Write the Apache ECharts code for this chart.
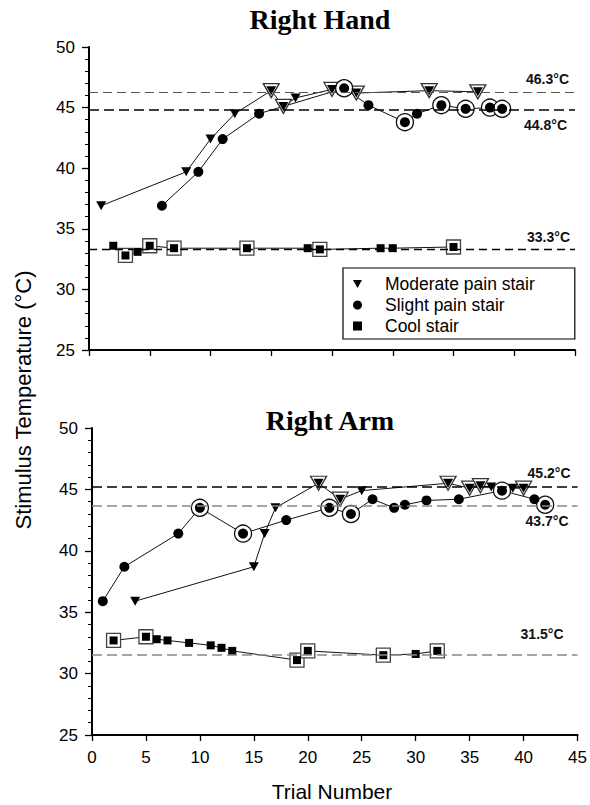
<!DOCTYPE html>
<html>
<head>
<meta charset="utf-8">
<script src="https://cdn.jsdelivr.net/npm/echarts@6/dist/echarts.min.js"></script>
<style>
html,body{margin:0;padding:0;background:#fff;}
#c{width:590px;height:805px;}
</style>
</head>
<body>
<div id="c"></div>
<script>
// ---------- DATA ----------
const seriesNames = ['Moderate pain stair', 'Slight pain stair', 'Cool stair'];
const xTicksTop = [0, 40, 5];      // min, max, interval
const xTicksBottom = [0, 45, 5];
const yTicks = [25, 50, 5];

// Right Hand
const handModX = [1, 8, 10, 12, 15, 16, 17, 20, 22, 28, 32];
const handModY = [36.9, 39.7, 42.4, 44.5, 46.4, 45.1, 45.8, 46.5, 46.2, 46.4, 46.3];
const handModRev = [0, 0, 0, 0, 1, 1, 0, 1, 1, 1, 1];

const handSlightX = [6, 9, 11, 14, 21, 23, 26, 27, 29, 31, 33, 34];
const handSlightY = [36.9, 39.7, 42.4, 44.5, 46.6, 45.2, 43.8, 44.5, 45.2, 44.9, 45.0, 44.9];
const handSlightRev = [0, 0, 0, 0, 1, 0, 1, 0, 1, 1, 1, 1];

const handCoolX = [2, 3, 4, 5, 7, 13, 18, 19, 24, 25, 30];
const handCoolY = [33.6, 32.8, 33.1, 33.6, 33.4, 33.4, 33.4, 33.3, 33.4, 33.4, 33.5];
const handCoolRev = [0, 1, 0, 1, 1, 1, 0, 1, 0, 0, 1];

const handRefValues = [46.3, 44.8, 33.3];

// Right Arm
const armModX = [4, 15, 16, 17, 21, 23, 25, 33, 35, 36, 37, 39, 40];
const armModY = [35.9, 38.7, 41.4, 43.5, 45.5, 44.2, 44.9, 45.5, 45.1, 45.3, 45.2, 45.1, 45.1];
const armModRev = [0, 0, 0, 0, 1, 1, 0, 1, 1, 1, 0, 0, 1];

const armSlightX = [1, 3, 8, 10, 14, 18, 22, 24, 26, 28, 29, 31, 34, 38, 41, 42];
const armSlightY = [35.9, 38.7, 41.4, 43.5, 41.4, 42.5, 43.5, 43.0, 44.2, 43.5, 43.75, 44.1, 44.2, 44.9, 44.2, 43.75];
const armSlightRev = [0, 0, 0, 1, 1, 0, 1, 1, 0, 0, 0, 0, 0, 1, 0, 1];

const armCoolX = [2, 5, 6, 7, 9, 11, 12, 13, 19, 20, 27, 30, 32];
const armCoolY = [32.7, 33.0, 32.8, 32.7, 32.5, 32.3, 32.1, 31.85, 31.1, 31.85, 31.5, 31.6, 31.85];
const armCoolRev = [1, 1, 0, 0, 0, 0, 0, 0, 1, 1, 1, 0, 1];

const armRefValues = [45.2, 43.7, 31.5];

const titles = ['Right Hand', 'Right Arm'];
const yName = 'Stimulus Temperature (°C)';
const xName = 'Trial Number';

// ---------- BUILD ----------
const SANS = '"Liberation Sans", Arial, sans-serif';
const SERIF = '"Liberation Serif", "Times New Roman", serif';
const pairs = (xs, ys) => xs.map((x, i) => [x, ys[i]]);
const revs = (xs, ys, f) => xs.map((x, i) => [x, ys[i]]).filter((d, i) => f[i]);

const DOWN_TRI = 'path://M0,0L10,0L5,9Z';

function refLine(v, color, width, dash, pos, dist) {
  return {
    yAxis: v,
    lineStyle: { color: color, width: width, type: dash },
    label: {
      show: true, position: pos, distance: dist,
      formatter: v.toFixed(1) + '°C',
      color: '#111', fontFamily: SANS, fontWeight: 'bold', fontSize: 14
    }
  };
}

function chartSeries(gi, mod, slight, cool, refs) {
  const out = [];
  const groups = [
    { d: mod, sym: 'triangle', rot: 180, size: [10, 9], ringSym: 'triangle', ringSize: [16, 14], ringColor: '#333' },
    { d: slight, sym: 'circle', rot: 0, size: 10, ringSym: 'circle', ringSize: 17, ringColor: '#111' },
    { d: cool, sym: 'rect', rot: 0, size: 8, ringSym: 'rect', ringSize: 14, ringColor: '#444' }
  ];
  groups.forEach((g, k) => {
    out.push({
      type: 'line', name: '_line' + gi + k, xAxisIndex: gi, yAxisIndex: gi,
      data: pairs(g.d[0], g.d[1]), showSymbol: false, silent: true,
      lineStyle: { color: '#111', width: 1 }, z: 2,
      markLine: {
        silent: true, symbol: ['none', 'none'], animation: false,
        data: [refs[k]]
      }
    });
    out.push({
      type: 'scatter', name: '_ring' + gi + k, xAxisIndex: gi, yAxisIndex: gi,
      data: revs(g.d[0], g.d[1], g.d[2]), symbol: g.ringSym, symbolRotate: g.rot,
      symbolSize: g.ringSize, silent: true,
      itemStyle: { color: '#fff', borderColor: g.ringColor, borderWidth: 1.3, opacity: 1 }, z: 3
    });
    out.push({
      type: 'scatter', name: seriesNames[k], xAxisIndex: gi, yAxisIndex: gi,
      data: pairs(g.d[0], g.d[1]), symbol: g.sym, symbolRotate: g.rot,
      symbolSize: g.size, itemStyle: { color: '#000', opacity: 1 }, z: 4
    });
  });
  return out;
}

const handRefs = [
  refLine(handRefValues[0], '#555', 1.2, [9, 5], 'insideEndTop', 6),
  refLine(handRefValues[1], '#000', 1.6, [10, 5], 'insideEndBottom', 8),
  refLine(handRefValues[2], '#000', 1.4, [8, 5], 'insideEndTop', 5)
];
const armRefs = [
  refLine(armRefValues[0], '#000', 1.6, [10, 5], 'insideEndTop', 7),
  refLine(armRefValues[1], '#888', 1.6, [10, 5], 'insideEndBottom', 9),
  refLine(armRefValues[2], '#888', 1.6, [10, 5], 'insideEndTop', 14)
];

function xAxis(gi, t, showLabels) {
  return {
    type: 'value', gridIndex: gi, min: t[0], max: t[1], interval: t[2],
    axisLine: { show: true, lineStyle: { color: '#000', width: 2 } },
    axisTick: { show: true, length: 6, lineStyle: { color: '#000', width: 1.3 } },
    axisLabel: { show: showLabels, margin: 14, color: '#000', fontFamily: SANS, fontSize: 17 },
    splitLine: { show: false }
  };
}
function yAxis(gi) {
  return {
    type: 'value', gridIndex: gi, min: yTicks[0], max: yTicks[1], interval: yTicks[2],
    axisLine: { show: true, lineStyle: { color: '#000', width: 2 } },
    axisTick: { show: true, length: 7, lineStyle: { color: '#000', width: 1.3 } },
    minorTick: { show: true, splitNumber: 5, length: 4, lineStyle: { color: '#000', width: 1 } },
    axisLabel: { margin: 14, color: '#000', fontFamily: SANS, fontSize: 17 },
    splitLine: { show: false }, minorSplitLine: { show: false }
  };
}

const chart = echarts.init(document.getElementById('c'), null, { renderer: 'svg' });
chart.setOption({
  animation: false,
  backgroundColor: '#fff',
  grid: [
    { left: 89, top: 47, width: 486, height: 303 },
    { left: 92, top: 428, width: 487, height: 307 }
  ],
  xAxis: [xAxis(0, xTicksTop, false), xAxis(1, xTicksBottom, true)],
  yAxis: [yAxis(0), yAxis(1)],
  legend: {
    left: 343, top: 268, orient: 'vertical',
    backgroundColor: '#fff', borderColor: '#000', borderWidth: 1.2,
    padding: [7, 40, 4, 10], itemGap: 3,
    itemWidth: 9, itemHeight: 9,
    textStyle: { fontFamily: SANS, fontSize: 17.5, color: '#000', padding: [0, 0, 0, 18], lineHeight: 15 },
    selectedMode: false,
    data: [
      { name: seriesNames[0], icon: DOWN_TRI },
      { name: seriesNames[1], icon: 'circle' },
      { name: seriesNames[2], icon: 'rect' }
    ]
  },
  graphic: [
    { type: 'text', x: 320, y: 19, style: { text: titles[0], textAlign: 'center', textVerticalAlign: 'middle', font: 'bold 28px ' + SERIF, fill: '#000' } },
    { type: 'text', x: 330, y: 420, style: { text: titles[1], textAlign: 'center', textVerticalAlign: 'middle', font: 'bold 28px ' + SERIF, fill: '#000' } },
    { type: 'text', x: 23, y: 400, rotation: Math.PI / 2, style: { text: yName, textAlign: 'center', textVerticalAlign: 'middle', font: '22px ' + SANS, fill: '#000' } },
    { type: 'text', x: 332, y: 791, style: { text: xName, textAlign: 'center', textVerticalAlign: 'middle', font: '21px ' + SANS, fill: '#000' } }
  ],
  series: chartSeries(0, [handModX, handModY, handModRev], [handSlightX, handSlightY, handSlightRev], [handCoolX, handCoolY, handCoolRev], handRefs)
    .concat(chartSeries(1, [armModX, armModY, armModRev], [armSlightX, armSlightY, armSlightRev], [armCoolX, armCoolY, armCoolRev], armRefs))
});
</script>
</body>
</html>
